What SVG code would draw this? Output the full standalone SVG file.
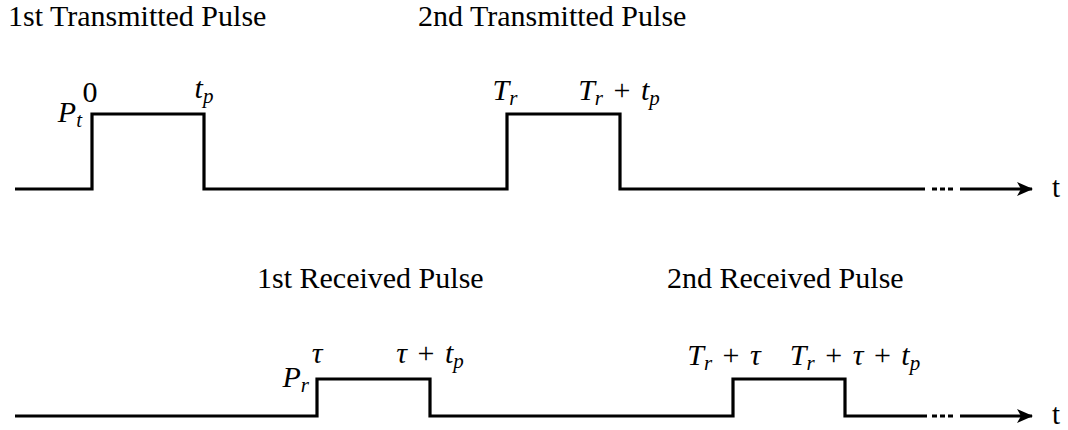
<svg xmlns="http://www.w3.org/2000/svg" width="1068" height="430" viewBox="0 0 1068 430">
<style>
.sig{fill:none;stroke:#000;stroke-width:3.2;stroke-linejoin:miter;stroke-linecap:butt}
.dots{fill:none;stroke:#000;stroke-width:3.2;stroke-dasharray:5 3}
text{font-family:"Liberation Serif","DejaVu Serif",serif;fill:#000}
.title{font-size:30px}
.lab{font-size:30px;text-anchor:middle}
.labe{font-size:30px;text-anchor:end}
.it{font-style:italic}
.sub{font-size:21px;font-style:italic}
.ax{font-size:29px}
</style>
<defs>
<marker id="arr" viewBox="0 0 16 14" refX="15" refY="7" markerWidth="16" markerHeight="14" markerUnits="userSpaceOnUse" orient="auto">
<path d="M0,0 L16,7 L0,14 L4,7 Z" fill="#000"/>
</marker>
</defs>
<g id="titles">
<text class="title" x="8" y="26">1st Transmitted Pulse</text>
<text class="title" x="418" y="26">2nd Transmitted Pulse</text>
<text class="title" x="257" y="288">1st Received Pulse</text>
<text class="title" x="667" y="288">2nd Received Pulse</text>
</g>
<g id="connectors">
<path class="sig" d="M15,189 H92 V114 H204 V189 H507 V114 H620 V189 H925"/>
<path class="dots" d="M932,189 H956"/>
<path class="sig" d="M960,189 H1032" marker-end="url(#arr)"/>
<path class="sig" d="M15,416 H317 V379 H430 V416 H733 V379 H845 V416 H927"/>
<path class="dots" d="M932,416 H956"/>
<path class="sig" d="M960,416 H1032" marker-end="url(#arr)"/>
</g>
<g id="tx-labels">
<text class="lab" x="90" y="102">0</text>
<text class="labe" x="82" y="122"><tspan class="it">P</tspan><tspan class="sub" dy="5">t</tspan></text>
<text class="lab" x="204" y="98"><tspan class="it">t</tspan><tspan class="sub" dy="5">p</tspan></text>
<text class="lab" x="505" y="100"><tspan class="it">T</tspan><tspan class="sub" dy="5">r</tspan></text>
<text class="lab" x="619" y="100"><tspan class="it">T</tspan><tspan class="sub" dy="5">r</tspan><tspan dy="-5" dx="3"> + </tspan><tspan class="it" dx="3">t</tspan><tspan class="sub" dy="5">p</tspan></text>
<text class="ax" x="1052" y="197">t</text>
</g>
<g id="rx-labels">
<text class="lab" x="317" y="363"><tspan class="it">τ</tspan></text>
<text class="labe" x="309" y="387"><tspan class="it">P</tspan><tspan class="sub" dy="5">r</tspan></text>
<text class="lab" x="430" y="363"><tspan class="it">τ</tspan><tspan dx="3"> + </tspan><tspan class="it" dx="3">t</tspan><tspan class="sub" dy="5">p</tspan></text>
<text class="lab" x="724" y="365"><tspan class="it">T</tspan><tspan class="sub" dy="5">r</tspan><tspan dy="-5" dx="3"> + </tspan><tspan class="it" dx="3">τ</tspan></text>
<text class="lab" x="855" y="365"><tspan class="it">T</tspan><tspan class="sub" dy="5">r</tspan><tspan dy="-5" dx="3"> + </tspan><tspan class="it" dx="3">τ</tspan><tspan dx="3"> + </tspan><tspan class="it" dx="3">t</tspan><tspan class="sub" dy="5">p</tspan></text>
<text class="ax" x="1052" y="424">t</text>
</g>
</svg>
